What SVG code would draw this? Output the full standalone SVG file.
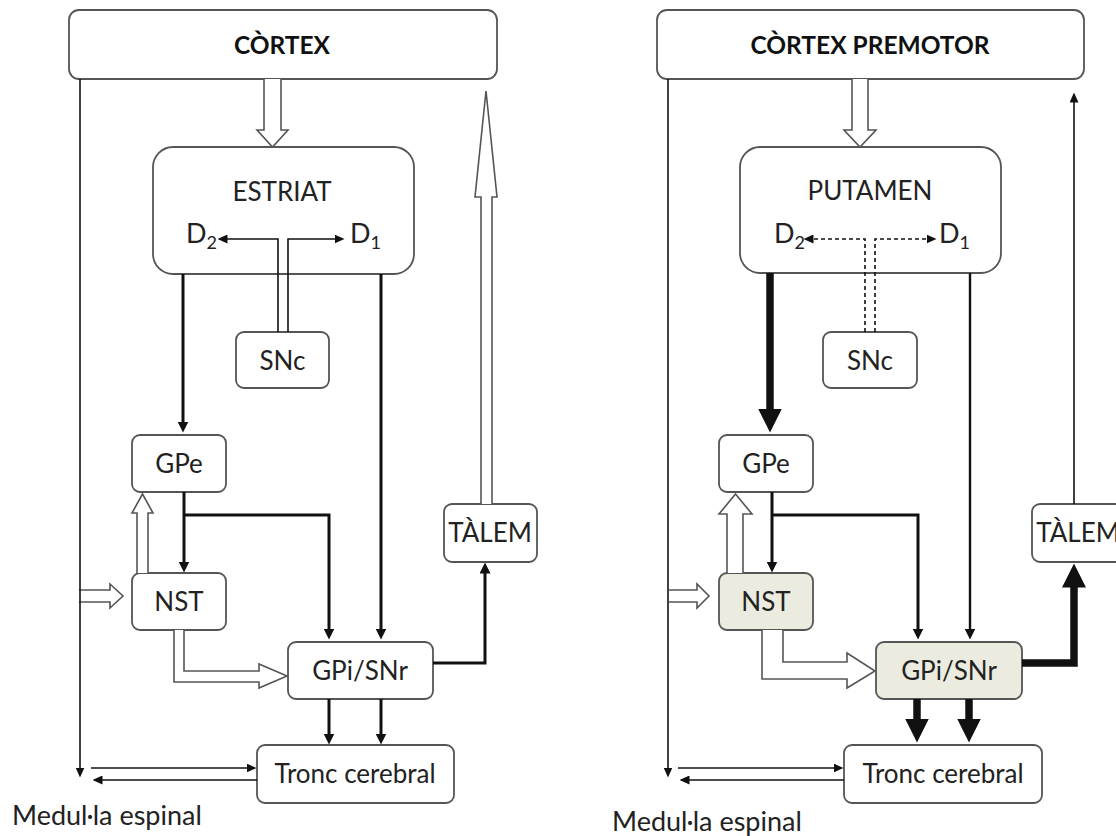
<svg xmlns="http://www.w3.org/2000/svg" width="1116" height="836" viewBox="0 0 1116 836">
  <style>
    .box { fill: #ffffff; stroke: #555555; stroke-width: 1.8; }
    .shade { fill: #ecebe0; }
    .lbl { font-family: Lato, "Liberation Sans", sans-serif; font-size: 26px; fill: #222222; text-anchor: middle; }
    .title { font-family: Lato, "Liberation Sans", sans-serif; font-size: 24.5px; font-weight: bold; fill: #111111; text-anchor: middle; }
    .rec { font-family: Lato, "Liberation Sans", sans-serif; font-size: 27px; fill: #222222; }
    .sub { font-size: 18px; }
    .thin { fill: none; stroke: #111111; stroke-width: 1.6; }
    .med { fill: none; stroke: #111111; stroke-width: 3; }
    .thick { fill: none; stroke: #111111; stroke-width: 7.5; stroke-linejoin: miter; }
    .dash { fill: none; stroke: #111111; stroke-width: 1.6; stroke-dasharray: 4 3; }
    .hollow { fill: #ffffff; stroke: #555555; stroke-width: 1.6; stroke-linejoin: miter; }
  </style>
  <defs>
    <marker id="ahS" markerUnits="userSpaceOnUse" markerWidth="10" markerHeight="9" refX="0.5" refY="4.5" orient="auto">
      <path d="M0,0 L10,4.5 L0,9 z" fill="#111111"/>
    </marker>
    <marker id="ahM" markerUnits="userSpaceOnUse" markerWidth="11" markerHeight="11" refX="0.5" refY="5.5" orient="auto">
      <path d="M0,0 L11,5.5 L0,11 z" fill="#111111"/>
    </marker>
    <marker id="ahL" markerUnits="userSpaceOnUse" markerWidth="24" markerHeight="24" refX="0.5" refY="12" orient="auto">
      <path d="M0,0 L24,12 L0,24 z" fill="#111111"/>
    </marker>
  </defs>

  <!-- ===== Left circuit: nodes ===== -->
  <g id="cortex-left">
    <rect class="box" x="69" y="10" width="428" height="69" rx="10"/>
    <text class="title" x="282" y="54">CÒRTEX</text>
  </g>
  <g id="estriat">
    <rect class="box" x="153" y="147" width="261" height="127" rx="20"/>
    <text class="lbl" x="282" y="201">ESTRIAT</text>
    <text class="rec" x="186" y="243">D<tspan class="sub" dy="6">2</tspan></text>
    <text class="rec" x="350" y="243">D<tspan class="sub" dy="6">1</tspan></text>
  </g>
  <g id="snc-left">
    <rect class="box" x="236" y="332" width="93" height="56" rx="8"/>
    <text class="lbl" x="282.5" y="370">SNc</text>
  </g>
  <g id="gpe-left">
    <rect class="box" x="132" y="435" width="94" height="57" rx="8"/>
    <text class="lbl" x="179" y="473">GPe</text>
  </g>
  <g id="nst-left">
    <rect class="box" x="132" y="573" width="94" height="57" rx="8"/>
    <text class="lbl" x="179" y="611">NST</text>
  </g>
  <g id="gpi-left">
    <rect class="box" x="288" y="642" width="145" height="57" rx="8"/>
    <text class="lbl" x="360" y="680">GPi/SNr</text>
  </g>
  <g id="talem-left">
    <rect class="box" x="444" y="504" width="93" height="58" rx="8"/>
    <text class="lbl" x="490" y="542">TÀLEM</text>
  </g>
  <g id="tronc-left">
    <rect class="box" x="257" y="745" width="197" height="58" rx="8"/>
    <text class="lbl" x="355" y="783">Tronc cerebral</text>
  </g>
  <g id="medulla-left">
    <text class="rec" x="12" y="825">Medul·la espinal</text>
  </g>

  <!-- ===== Right circuit: nodes ===== -->
  <g id="cortex-premotor">
    <rect class="box" x="657" y="10" width="427" height="69" rx="10"/>
    <text class="title" x="870" y="54">CÒRTEX PREMOTOR</text>
  </g>
  <g id="putamen">
    <rect class="box" x="740" y="147" width="261" height="126" rx="20"/>
    <text class="lbl" x="870" y="200">PUTAMEN</text>
    <text class="rec" x="774" y="243">D<tspan class="sub" dy="6">2</tspan></text>
    <text class="rec" x="939" y="243">D<tspan class="sub" dy="6">1</tspan></text>
  </g>
  <g id="snc-right">
    <rect class="box" x="823" y="332" width="94" height="56" rx="8"/>
    <text class="lbl" x="870" y="370">SNc</text>
  </g>
  <g id="gpe-right">
    <rect class="box" x="719" y="435" width="94" height="57" rx="8"/>
    <text class="lbl" x="766" y="473">GPe</text>
  </g>
  <g id="nst-right">
    <rect class="box shade" x="719" y="573" width="94" height="57" rx="8"/>
    <text class="lbl" x="766" y="611">NST</text>
  </g>
  <g id="gpi-right">
    <rect class="box shade" x="876" y="642" width="146" height="57" rx="8"/>
    <text class="lbl" x="949" y="680">GPi/SNr</text>
  </g>
  <g id="talem-right">
    <rect class="box" x="1032" y="504" width="93" height="58" rx="8"/>
    <text class="lbl" x="1078" y="542">TÀLEM</text>
  </g>
  <g id="tronc-right">
    <rect class="box" x="844" y="745" width="198" height="58" rx="8"/>
    <text class="lbl" x="943" y="783">Tronc cerebral</text>
  </g>
  <g id="medulla-right">
    <text class="rec" x="612" y="831">Medul·la espinal</text>
  </g>

  <!-- ===== Left circuit: connectors ===== -->
  <g id="connectors-left">
    <!-- cortex to striatum -->
    <path class="hollow" d="M264,79 V130 H257 L272.5,147 L288,130 H281 V79"/>
    <!-- SNc dopamine to D2 / D1 -->
    <path class="thin" d="M278,332 V239 H227" marker-end="url(#ahS)"/>
    <path class="thin" d="M288,332 V239 H335" marker-end="url(#ahS)"/>
    <!-- striatum outputs -->
    <path class="med" d="M183,274 V422" marker-end="url(#ahM)"/>
    <path class="med" d="M381,274 V629" marker-end="url(#ahM)"/>
    <!-- GPe outputs -->
    <path class="med" d="M184,492 V562" marker-end="url(#ahM)"/>
    <path class="med" d="M184,515 H329 V629" marker-end="url(#ahM)"/>
    <!-- NST to GPe -->
    <path class="hollow" d="M137,573 V513 H132 L142.5,494 L153,513 H148 V573"/>
    <!-- cortex input to NST -->
    <path class="hollow" d="M79,590 H110 V584 L123,596 L110,608 V602 H79"/>
    <!-- NST to GPi/SNr -->
    <path class="hollow" d="M174,630 V682 H259 V688 L287,676 L259,664 V671 H184 V630"/>
    <!-- GPi/SNr to thalamus -->
    <path class="med" d="M433,663 H485 V573" marker-end="url(#ahM)"/>
    <!-- thalamus to cortex -->
    <path class="hollow" d="M481,504 V197 H475 L486,91 L497,197 H492 V504"/>
    <!-- GPi/SNr to brainstem -->
    <path class="med" d="M329,699 V734" marker-end="url(#ahM)"/>
    <path class="med" d="M381,699 V734" marker-end="url(#ahM)"/>
    <!-- cortex to spinal cord -->
    <path class="thin" d="M80,79 V768" marker-end="url(#ahS)"/>
    <!-- brainstem / spinal cord -->
    <path class="thin" d="M91,768 H247" marker-end="url(#ahS)"/>
    <path class="thin" d="M257,780 H102" marker-end="url(#ahS)"/>
  </g>

  <!-- ===== Right circuit: connectors ===== -->
  <g id="connectors-right">
    <path class="hollow" d="M852,79 V130 H844 L860,147 L876,130 H868 V79"/>
    <path class="dash" d="M865,332 V239 H813" marker-end="url(#ahS)"/>
    <path class="dash" d="M875,332 V239 H927" marker-end="url(#ahS)"/>
    <path class="thick" d="M770,273 V409" marker-end="url(#ahL)"/>
    <path class="thin" style="stroke-width:2.4" d="M970,273 V629" marker-end="url(#ahM)"/>
    <path class="med" d="M772,492 V562" marker-end="url(#ahM)"/>
    <path class="med" d="M772,515 H918 V629" marker-end="url(#ahM)"/>
    <path class="hollow" d="M727,573 V514 H719 L735.5,494 L752,514 H743 V573"/>
    <path class="hollow" d="M669,590 H697 V584 L709,596 L697,608 V602 H669"/>
    <path class="hollow" d="M762,630 V679 H847 V688 L875,671 L847,653 V662 H783 V630"/>
    <path class="thick" d="M1022,663 H1074 V587" marker-end="url(#ahL)"/>
    <path class="thin" d="M1074,504 V102" marker-end="url(#ahS)"/>
    <path class="thick" d="M917,699 V719" marker-end="url(#ahL)"/>
    <path class="thick" d="M969,699 V719" marker-end="url(#ahL)"/>
    <path class="thin" d="M668,79 V768" marker-end="url(#ahS)"/>
    <path class="thin" d="M678,768 H834" marker-end="url(#ahS)"/>
    <path class="thin" d="M844,780 H689" marker-end="url(#ahS)"/>
  </g>
</svg>
